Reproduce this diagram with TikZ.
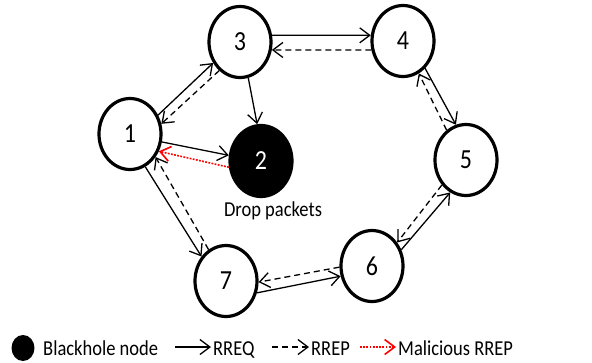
\documentclass[tikz,border=0pt]{standalone}
\usepackage{fontspec}
\usepackage{graphicx}
\setmainfont{Carlito}
\usetikzlibrary{shapes.geometric,arrows.meta}
\newcommand{\vst}[1]{\scalebox{1}[1.15]{#1}}
\begin{document}
\begin{tikzpicture}[x=1pt,y=-1pt,
  nd/.style={ellipse,draw,line width=3.2pt,minimum width=62pt,minimum height=71pt,inner sep=0pt,font=\fontsize{24}{26}\selectfont},
  bh/.style={nd,fill=black,text=white},
  tip/.style={-{Straight Barb[length=10pt,width=15pt]}},
  req/.style={tip,line width=1.3pt},
  rep/.style={tip,line width=1.3pt,dash pattern=on 6pt off 4pt},
  mal/.style={-{Straight Barb[length=10pt,width=15pt,line width=1.6pt]},red,line width=1.6pt,dash pattern=on 1.8pt off 1.4pt},
  lbl/.style={font=\fontsize{18.5}{20}\selectfont,inner sep=0pt}]
\useasboundingbox (0,0) rectangle (592,362);
\node[nd] (n1) at (130,134) {\vst{1}};
\node[nd] (n3) at (240,42) {\vst{3}};
\node[bh] (n2) at (261,161) {\vst{2}};
\node[nd] (n4) at (403,41) {\vst{4}};
\node[nd] (n5) at (466,160) {\vst{5}};
\node[nd] (n6) at (372,266) {\vst{6}};
\node[nd] (n7) at (226,281) {\vst{7}};
\node[lbl] (dp) at (273,211) {\vst{Drop packets}};
% 1-3
\draw[req] (n1.34) -- (n3.218);
\draw[rep] (n3.234) -- (n1.18);
% 3-4
\draw[req] (n3.12) -- (n4.170);
\draw[rep] (n4.196) -- (n3.346);
% 4-5
\draw[req] (n4.309) -- (n5.106);
\draw[rep] (n5.123) -- (n4.296);
% 5-6
\draw[req] (n6.29) -- (n5.244);
\draw[rep] (n5.226) -- (n6.43);
% 6-7
\draw[req] (n7.339) -- (n6.198);
\draw[rep] (n6.182) -- (n7.358);
% 1-7
\draw[req] (n1.295) -- (n7.135);
\draw[rep] (n7.119) -- (n1.318);
% to 2
\draw[req] (n3.283) -- (n2.96);
\draw[req] (n1.346) -- (n2.170);
\draw[mal] (n2.191) -- (n1.329);
% legend
\node[ellipse,fill=black,minimum width=23pt,minimum height=26pt,inner sep=0pt] (ld) at (23,348) {};
\node[lbl,anchor=base west] (lt1) at (43,355) {\vst{Blackhole node}};
\coordinate (a1) at (175,347);
\node[lbl,anchor=base west] (lt2) at (213,355) {\vst{RREQ}};
\draw[req] (a1) -- ([xshift=-2pt]lt2.west|-a1);
\coordinate (a2) at (272,347);
\node[lbl,anchor=base west] (lt3) at (311,355) {\vst{RREP}};
\draw[rep] (a2) -- ([xshift=-2pt]lt3.west|-a2);
\coordinate (a3) at (360,347);
\node[lbl,anchor=base west] (lt4) at (398,355) {\vst{Malicious RREP}};
\draw[mal] (a3) -- ([xshift=-2pt]lt4.west|-a3);
\end{tikzpicture}
\end{document}
